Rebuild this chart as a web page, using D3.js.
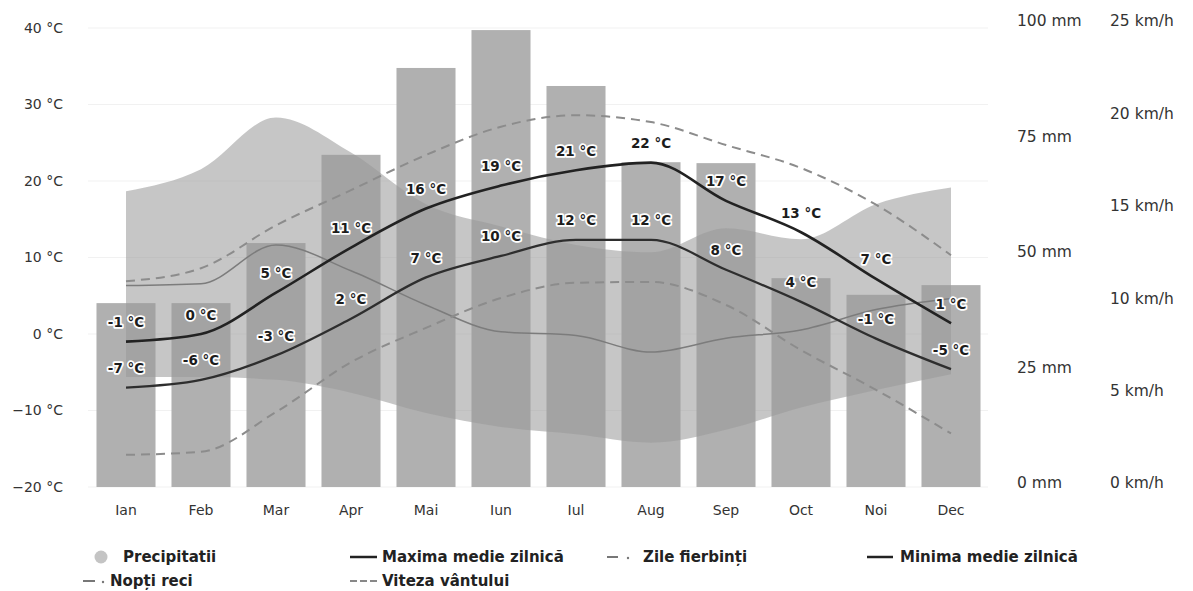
<!DOCTYPE html>
<html><head><meta charset="utf-8">
<script src="https://cdn.jsdelivr.net/npm/d3@7"></script>
<style>body{margin:0;background:#fff}svg{display:block;font-family:"DejaVu Sans",sans-serif}</style>
</head><body><svg id="c" width="1193" height="591"></svg>
<script>
const months = ["Ian","Feb","Mar","Apr","Mai","Iun","Iul","Aug","Sep","Oct","Noi","Dec"];
const precip = [39.8, 39.8, 52.8, 71.9, 90.7, 98.9, 86.8, 70.3, 70.1, 45.2, 41.6, 43.7];
const tempMax = [-1, 0, 5.4, 11.3, 16.4, 19.4, 21.4, 22.4, 17.4, 13.3, 7.2, 1.4];
const tempMin = [-7, -6, -2.8, 2, 7.4, 10.2, 12.3, 12.3, 8.4, 4.2, -0.6, -4.6];
const hotDays = [6.9, 8.6, 14.2, 18.8, 23.4, 27.1, 28.6, 27.7, 24.7, 21.7, 16.9, 10.3];
const coldNights = [-15.8, -15.4, -10.2, -3.7, 0.8, 4.7, 6.7, 6.8, 3.8, -2.1, -7.3, -13.0];
const windHigh = [16.0, 17.2, 20.0, 18.1, 15.3, 14.1, 13.1, 12.7, 14.0, 13.4, 15.3, 16.2];
const windLow = [5.95, 5.95, 5.8, 5.1, 4.0, 3.25, 2.85, 2.4, 3.1, 4.3, 5.25, 6.1];
const windMean = [10.9, 11.0, 13.1, 11.7, 9.85, 8.4, 8.2, 7.3, 8.05, 8.5, 9.6, 10.2];
const tempTicks = [-20, -10, 0, 10, 20, 30, 40];
const precipTicks = [0, 25, 50, 75, 100];
const windTicks = [0, 5, 10, 15, 20, 25];

const svg = d3.select("#c");
const x = d3.scaleBand().domain(months).range([88.5, 988.5]).paddingInner(0.213).paddingOuter(0.1065);
const yT = d3.scaleLinear().domain([-20, 40]).range([487, 28]);
const yP = d3.scaleLinear().domain([0, 100]).range([487, 25]);
const yW = d3.scaleLinear().domain([0, 25]).range([487, 25]);
const cx = i => x(months[i]) + x.bandwidth() / 2;
const idx = d3.range(months.length);

// faint grid
svg.append("g").selectAll("line").data(tempTicks).join("line")
  .attr("x1", 88).attr("x2", 988).attr("y1", d => yT(d)).attr("y2", d => yT(d))
  .attr("stroke", "#f1f1f1");

// precipitation bars
svg.append("g").selectAll("rect").data(idx).join("rect")
  .attr("x", i => x(months[i])).attr("width", x.bandwidth())
  .attr("y", i => yP(precip[i])).attr("height", i => yP(0) - yP(precip[i]))
  .attr("fill", "#b0b0b0");

// wind band
const band = d3.area().x(i => cx(i)).y0(i => yW(windLow[i])).y1(i => yW(windHigh[i])).curve(d3.curveMonotoneX);
svg.append("path").datum(idx).attr("d", band).attr("fill", "#9a9a9a").attr("fill-opacity", 0.56);

// wind mean line
const lineW = d3.line().x(i => cx(i)).y(i => yW(windMean[i])).curve(d3.curveMonotoneX);
svg.append("path").datum(idx).attr("d", lineW).attr("fill", "none").attr("stroke", "#7c7c7c").attr("stroke-width", 1.5);

// hot days / cold nights
const lineT = arr => d3.line().x(i => cx(i)).y(i => yT(arr[i])).curve(d3.curveMonotoneX);
svg.append("path").datum(idx).attr("d", lineT(hotDays)).attr("fill", "none")
  .attr("stroke", "#8c8c8c").attr("stroke-width", 2).attr("stroke-dasharray", "9,6");
svg.append("path").datum(idx).attr("d", lineT(coldNights)).attr("fill", "none")
  .attr("stroke", "#8c8c8c").attr("stroke-width", 2).attr("stroke-dasharray", "9,6");

// max / min
svg.append("path").datum(idx).attr("d", lineT(tempMax)).attr("fill", "none")
  .attr("stroke", "#222").attr("stroke-width", 2.6);
svg.append("path").datum(idx).attr("d", lineT(tempMin)).attr("fill", "none")
  .attr("stroke", "#2e2e2e").attr("stroke-width", 2.3);

// value labels
function labels(arr) {
  svg.append("g").selectAll("text").data(idx).join("text")
    .attr("x", i => cx(i)).attr("y", i => yT(arr[i]) - 14.5)
    .attr("text-anchor", "middle").attr("font-size", "13.5px").attr("font-weight", "bold")
    .attr("fill", "#1c1c1c").attr("stroke", "#fff").attr("stroke-width", 3.5)
    .attr("stroke-linejoin", "round").attr("paint-order", "stroke")
    .text(i => `${Math.round(arr[i])} °C`);
}
labels(tempMax);
labels(tempMin);

// left axis labels
svg.append("g").selectAll("text").data(tempTicks).join("text")
  .attr("x", 63).attr("y", d => yT(d)).attr("dy", "0.35em").attr("text-anchor", "end")
  .attr("font-size", "14px").attr("fill", "#333")
  .text(d => `${d3.format("")(d)} °C`);

// right axes
svg.append("g").selectAll("text").data(precipTicks).join("text")
  .attr("x", 1017).attr("y", d => yP(d) - 4).attr("dy", "0.35em")
  .attr("font-size", "15.5px").attr("fill", "#333").text(d => `${d} mm`);
svg.append("g").selectAll("text").data(windTicks).join("text")
  .attr("x", 1110).attr("y", d => yW(d) - 4).attr("dy", "0.35em")
  .attr("font-size", "15.5px").attr("fill", "#333").text(d => `${d} km/h`);

// month labels
svg.append("g").selectAll("text").data(idx).join("text")
  .attr("x", i => cx(i)).attr("y", 510).attr("dy", "0.35em").attr("text-anchor", "middle")
  .attr("font-size", "14px").attr("fill", "#333").text(i => months[i]);

// legend
const leg = svg.append("g").attr("font-size", "15px").attr("font-weight", "bold").attr("fill", "#222");
leg.append("circle").attr("cx", 101).attr("cy", 557).attr("r", 6.5).attr("fill", "#c4c4c4");
leg.append("text").attr("x", 123).attr("y", 557).attr("dy", "0.35em").text("Precipitatii");
leg.append("line").attr("x1", 350).attr("x2", 377).attr("y1", 557).attr("y2", 557).attr("stroke", "#222").attr("stroke-width", 2.5);
leg.append("text").attr("x", 382).attr("y", 557).attr("dy", "0.35em").text("Maxima medie zilnică");
leg.append("line").attr("x1", 607).attr("x2", 618).attr("y1", 557).attr("y2", 557).attr("stroke", "#777").attr("stroke-width", 2);
leg.append("circle").attr("cx", 628).attr("cy", 558).attr("r", 1.2).attr("fill", "#777");
leg.append("text").attr("x", 643).attr("y", 557).attr("dy", "0.35em").text("Zile fierbinți");
leg.append("line").attr("x1", 867).attr("x2", 893).attr("y1", 557).attr("y2", 557).attr("stroke", "#222").attr("stroke-width", 2.5);
leg.append("text").attr("x", 900).attr("y", 557).attr("dy", "0.35em").text("Minima medie zilnică");
leg.append("line").attr("x1", 83).attr("x2", 95).attr("y1", 581).attr("y2", 581).attr("stroke", "#777").attr("stroke-width", 2);
leg.append("circle").attr("cx", 103).attr("cy", 582).attr("r", 1.2).attr("fill", "#777");
leg.append("text").attr("x", 110).attr("y", 581).attr("dy", "0.35em").text("Nopți reci");
leg.append("line").attr("x1", 350).attr("x2", 377).attr("y1", 581).attr("y2", 581).attr("stroke", "#888").attr("stroke-width", 2).attr("stroke-dasharray", "7,3");
leg.append("text").attr("x", 382).attr("y", 581).attr("dy", "0.35em").text("Viteza vântului");
</script></body></html>
